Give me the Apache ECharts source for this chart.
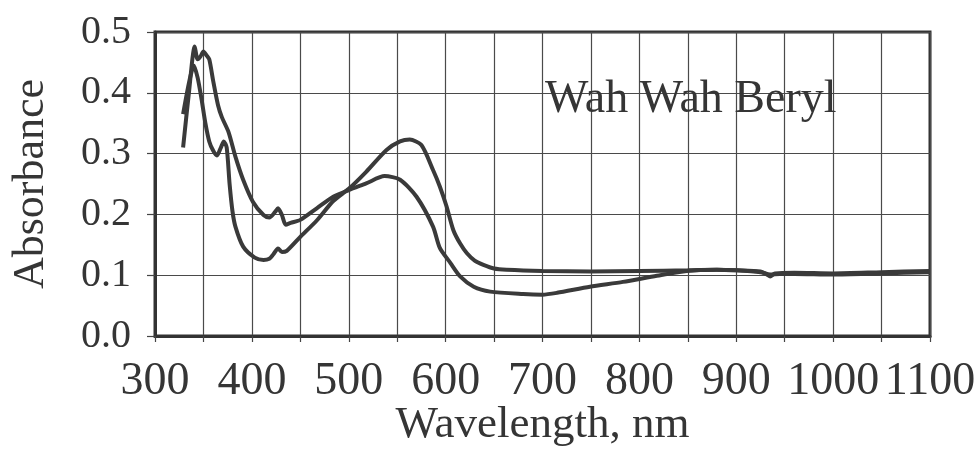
<!DOCTYPE html>
<html>
<head>
<meta charset="utf-8">
<script src="https://cdn.jsdelivr.net/npm/echarts@6/dist/echarts.min.js"></script>
<style>
  html, body { margin: 0; padding: 0; background: #ffffff; }
  #chart { width: 974px; height: 451px; }
</style>
</head>
<body>
<div id="chart"></div>
<script>
// Curve 1 (peak ~0.32 near 565 nm)
var wavelength1 = [329, 333, 337, 340, 344, 348, 352, 356, 360, 364, 368, 371, 374, 377, 380, 383, 391, 403, 412, 418, 422, 427, 431, 436, 450, 467, 484, 500, 518, 539, 553, 563, 575, 587, 594, 601, 608, 615, 622, 630, 639, 650, 663, 700, 750, 800, 850, 880, 900, 925, 932, 935, 940, 960, 1000, 1050, 1100];
var absorbance1 = [0.365, 0.40, 0.43, 0.445, 0.425, 0.39, 0.35, 0.32, 0.305, 0.297, 0.31, 0.32, 0.31, 0.25, 0.205, 0.18, 0.147, 0.129, 0.125, 0.127, 0.134, 0.144, 0.138, 0.140, 0.163, 0.19, 0.222, 0.242, 0.27, 0.306, 0.32, 0.323, 0.314, 0.273, 0.246, 0.213, 0.174, 0.152, 0.136, 0.124, 0.117, 0.111, 0.109, 0.107, 0.106, 0.107, 0.108, 0.109, 0.108, 0.106, 0.101, 0.098, 0.103, 0.104, 0.103, 0.105, 0.107];
// Curve 2 (peak ~0.26 near 537 nm, minimum ~0.07 near 690 nm)
var wavelength2 = [329, 335, 341, 344, 347, 350, 353, 356, 360, 365, 369, 376, 383, 391, 401, 412, 418, 424, 427, 431, 435, 440, 450, 467, 484, 500, 518, 537, 553, 570, 587, 594, 605, 615, 629, 646, 680, 700, 715, 749, 783, 818, 849, 880, 900, 925, 935, 945, 960, 1000, 1050, 1100];
var absorbance2 = [0.31, 0.40, 0.476, 0.455, 0.46, 0.468, 0.462, 0.455, 0.42, 0.38, 0.36, 0.335, 0.295, 0.257, 0.221, 0.199, 0.195, 0.204, 0.21, 0.199, 0.183, 0.186, 0.191, 0.21, 0.229, 0.24, 0.251, 0.263, 0.257, 0.229, 0.18, 0.145, 0.12, 0.098, 0.081, 0.073, 0.069, 0.068, 0.071, 0.081, 0.089, 0.099, 0.107, 0.109, 0.108, 0.105, 0.101, 0.102, 0.102, 0.101, 0.103, 0.105];
var xAxisTitle = 'Wavelength, nm';
var yAxisTitle = 'Absorbance';
var chartLabel = 'Wah Wah Beryl';

function pairs(xs, ys) { return xs.map(function (x, i) { return [x, ys[i]]; }); }

var FONT = '"Liberation Serif", "Times New Roman", serif';
var INK = '#353535';

var chart = echarts.init(document.getElementById('chart'), null, { renderer: 'canvas' });
chart.setOption({
  animation: false,
  backgroundColor: '#ffffff',
  title: {
    text: chartLabel,
    left: 540, top: 72,
    textStyle: { fontFamily: FONT, fontSize: 46, fontWeight: 'normal', color: INK }
  },
  grid: {
    left: 155, right: 44, top: 32, bottom: 115,
    containLabel: false, outerBoundsMode: 'none',
    show: true, borderColor: '#333333', borderWidth: 3, backgroundColor: 'transparent'
  },
  xAxis: {
    type: 'value', min: 300, max: 1100, interval: 50,
    name: xAxisTitle, nameLocation: 'middle', nameGap: 67, nameMoveOverlap: false,
    nameTextStyle: { fontFamily: FONT, fontSize: 45, color: INK },
    axisLine: { show: true, lineStyle: { color: '#333333', width: 3 } },
    axisTick: { show: true, inside: false, length: 6, lineStyle: { color: '#444', width: 1.2 } },
    axisLabel: {
      fontFamily: FONT, fontSize: 46, color: INK, margin: 23,
      formatter: function (v) { return v % 100 === 0 ? String(v) : ''; }
    },
    splitLine: { show: true, lineStyle: { color: '#4a4a4a', width: 1.2 } }
  },
  yAxis: {
    type: 'value', min: 0, max: 0.5, interval: 0.1,
    name: yAxisTitle, nameLocation: 'middle', nameGap: 102, nameRotate: 90, nameMoveOverlap: false,
    nameTextStyle: { fontFamily: FONT, fontSize: 44, color: INK },
    axisLine: { show: true, lineStyle: { color: '#333333', width: 3 } },
    axisTick: { show: true, inside: false, length: 8, lineStyle: { color: '#444', width: 1.2 } },
    axisLabel: {
      fontFamily: FONT, fontSize: 40, color: INK, margin: 24,
      formatter: function (v) { return v.toFixed(1); }
    },
    splitLine: { show: true, lineStyle: { color: '#4a4a4a', width: 1.2 } }
  },
  series: [
    {
      type: 'line', data: pairs(wavelength1, absorbance1), showSymbol: false, smooth: 0.25,
      lineStyle: { color: '#3a3a3a', width: 4 }, z: 3
    },
    {
      type: 'line', data: pairs(wavelength2, absorbance2), showSymbol: false, smooth: 0.25,
      lineStyle: { color: '#3a3a3a', width: 4 }, z: 3
    }
  ]
});
</script>
</body>
</html>
